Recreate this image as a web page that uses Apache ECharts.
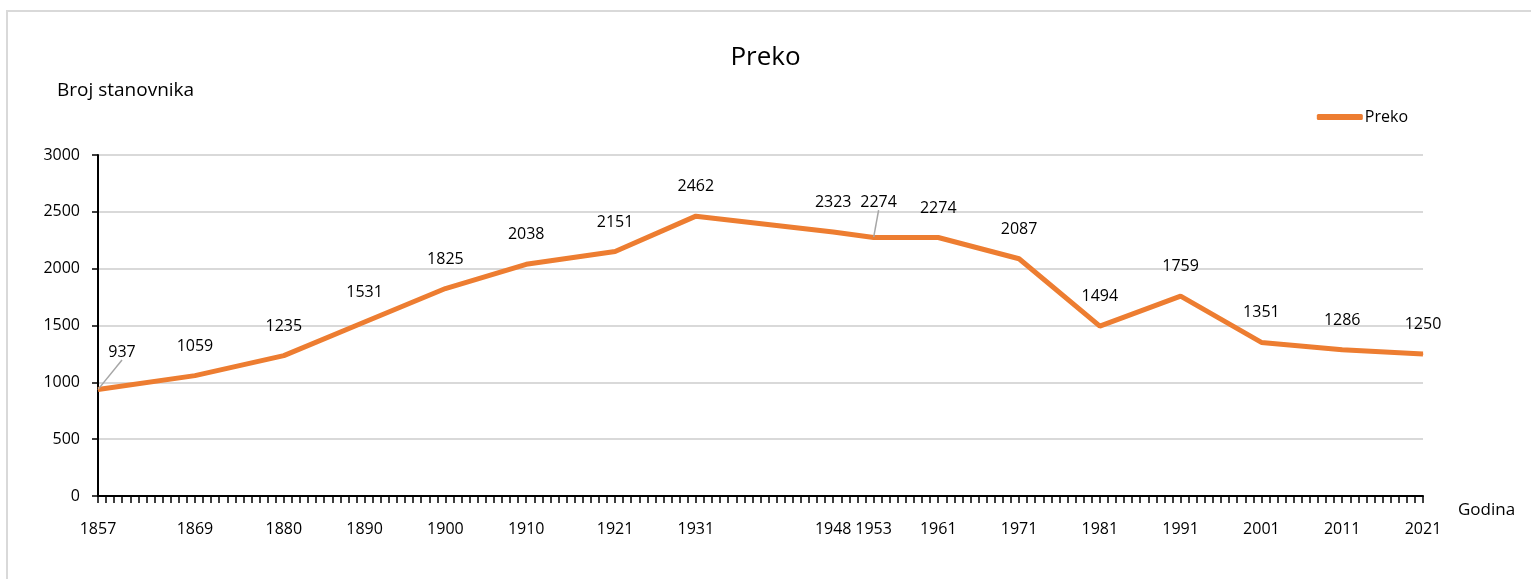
<!DOCTYPE html>
<html>
<head>
<meta charset="utf-8">
<script src="https://cdn.jsdelivr.net/npm/echarts@6/dist/echarts.min.js"></script>
<style>
    html, body { margin: 0; padding: 0; background: #fff; }
    #container { width: 1531px; height: 579px; }
</style>
</head>
<body>
<div id="container"></div>
<script>
// podaci o broju stanovnika
var years = [1857, 1869, 1880, 1890, 1900, 1910, 1921, 1931, 1948, 1953, 1961, 1971, 1981, 1991, 2001, 2011, 2021]
var population = [937, 1059, 1235, 1531, 1825, 2038, 2151, 2462, 2323, 2274, 2274, 2087, 1494, 1759, 1351, 1286, 1250]
var yTicks = [0, 500, 1000, 1500, 2000, 2500, 3000]

var font = "'Open Sans', sans-serif"

var chart = echarts.init(document.getElementById('container'))

// pomaci za natpise koji imaju crtu do točke
var labelMoves = {
    0: { dx: 24, dy: -8 },
    9: { dx: 5, dy: -6 },
}

var points = []
for (let i = 0; i < years.length; i++) {
    let o = { value: [years[i], population[i]] }
    if (labelMoves[i]) {
        o.labelLine = { show: true }
    }
    points.push(o)
}

var option = {
    animation: false,
    title: {
        text: 'Preko',
        left: 'center',
        top: 40,
        textStyle: { fontFamily: font, fontSize: 26, fontWeight: 'normal', color: '#000' },
    },
    legend: {
        right: 118,
        top: 104,
        itemWidth: 46,
        itemHeight: 6,
        itemGap: 4,
        icon: 'roundRect',
        textStyle: { fontFamily: font, fontSize: 16, color: '#000', padding: [0, 0, 0, -3] },
        data: ['Preko'],
    },
    graphic: [{
        type: 'rect',
        shape: { x: 7, y: 11, width: 1600, height: 700 },
        style: { fill: 'none', stroke: '#d9d9d9', lineWidth: 2 },
        silent: true,
    }],
    grid: { left: 98, right: 108, top: 155, bottom: 83 },
    xAxis: {
        type: 'value',
        min: 1857,
        max: 2021,
        interval: 1,
        name: 'Godina',
        nameLocation: 'end',
        nameGap: 35,
        nameTextStyle: { fontFamily: font, fontSize: 17, color: '#000', verticalAlign: 'top', padding: [6, 0, 0, 0] },
        axisLine: { lineStyle: { color: '#000', width: 2 } },
        axisTick: { show: true, length: 7, lineStyle: { color: '#000', width: 1.5 } },
        splitLine: { show: false },
        axisLabel: {
            margin: 25,
            fontFamily: font,
            fontSize: 16,
            color: '#000',
            showMinLabel: true,
            showMaxLabel: true,
            formatter: function (v) {
                return years.indexOf(v) >= 0 ? String(v) : ''
            },
        },
    },
    yAxis: {
        type: 'value',
        min: 0,
        max: 3000,
        interval: 500,
        name: 'Broj stanovnika',
        nameLocation: 'end',
        nameGap: 55,
        nameTextStyle: { fontFamily: font, fontSize: 19, color: '#000', align: 'left', padding: [0, 0, 0, -41] },
        axisLine: { show: true, lineStyle: { color: '#000', width: 2 } },
        axisTick: { show: true, length: 6, lineStyle: { color: '#000', width: 1.5 } },
        splitLine: { show: true, lineStyle: { color: '#d9d9d9', width: 2 } },
        axisLabel: {
            margin: 18,
            fontFamily: font,
            fontSize: 16,
            color: '#000',
            formatter: function (v) {
                return yTicks.indexOf(v) >= 0 ? String(v) : ''
            },
        },
    },
    series: [{
        name: 'Preko',
        type: 'line',
        data: points,
        symbol: 'circle',
        symbolSize: 1,
        itemStyle: { color: '#ED7D31' },
        lineStyle: { color: '#ED7D31', width: 5 },
        label: {
            show: true,
            position: 'top',
            distance: 21,
            fontFamily: font,
            fontSize: 16,
            color: '#000',
            formatter: function (p) {
                return String(p.value[1])
            },
        },
        labelLine: { show: false, lineStyle: { color: '#a6a6a6', width: 1.5 } },
        labelLayout: function (p) {
            var m = labelMoves[p.dataIndex]
            if (m) {
                return { dx: m.dx, dy: m.dy }
            }
            return {}
        },
    }],
}

chart.setOption(option)
</script>
</body>
</html>
